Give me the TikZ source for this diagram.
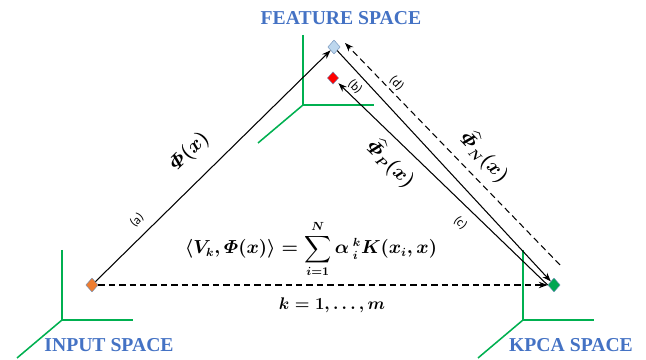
\documentclass[tikz,border=0pt]{standalone}
\usepackage{amsmath}
\usepackage[no-math]{fontspec}
\usetikzlibrary{arrows.meta,shapes.geometric}
\newfontfamily\headfont{Liberation Serif}
\newfontfamily\tagfont{Carlito}
\definecolor{spaceblue}{HTML}{4472C4}
\definecolor{axisgreen}{HTML}{00B050}
\definecolor{inpfill}{HTML}{ED7D31}
\definecolor{featfill}{HTML}{BDD7EE}
\definecolor{kpcafill}{HTML}{00A651}
\definecolor{rimblue}{HTML}{6F8FB8}
\begin{document}
\begin{tikzpicture}[
  x=0.25mm,
  y=-0.25mm,
  line join=round,
  axis/.style={draw=axisgreen,line width=1.1pt},
  sample/.style={diamond,draw=rimblue,line width=0.3pt,inner sep=0pt,
    minimum width=3.1mm,minimum height=3.5mm},
  link/.style={draw=black,line width=0.75pt,-{Stealth[length=2.2mm,width=1.6mm]}},
  back/.style={link,dash pattern=on 1.6mm off 1mm},
  spacelabel/.style={text=spaceblue,font=\headfont\bfseries\fontsize{14}{16}\selectfont},
  eqn/.style={inner sep=1pt,font=\fontsize{13.5}{16}\selectfont\boldmath},
  caselabel/.style={inner sep=1pt,font=\tagfont\fontsize{9}{10}\selectfont}
]
  \useasboundingbox (0,0) rectangle (646,360);

  % Axes of the three spaces.
  \foreach \ox/\oy in {62/320,303/105,523/320} {
    \draw[axis] (\ox,\oy-70) -- (\ox,\oy) -- (\ox+71,\oy);
    \draw[axis] (\ox,\oy) -- (\ox-45,\oy+38);
  }

  % Samples.
  \node[sample,fill=inpfill] (inp) at (92,285) {};
  \node[sample,fill=featfill] (feat) at (334,47) {};
  \node[sample,fill=red,minimum width=2.8mm,minimum height=3.1mm] (red) at (333,78) {};
  \node[sample,fill=kpcafill] (kpca) at (554,285) {};

  % Space names.
  \node[spacelabel] (featname) at (341,18) {FEATURE SPACE};
  \node[spacelabel] (inpname) at (109,345) {INPUT SPACE};
  \node[spacelabel] (kpcaname) at (571,345) {KPCA SPACE};

  % Projection formula.
  \node[eqn,scale=0.93] (proj) at (311,249)
    {$\langle V_k,\varPhi(x)\rangle = \displaystyle\sum_{i=1}^{N}\alpha\,{}^{k}_{i}K(x_i,x)$};
  \node[eqn,font=\fontsize{12.5}{15}\selectfont\boldmath] (range) at (332,305) {$k=1,\dots,m$};

  % Mappings.
  \draw[link] (inp) -- (feat)
    node[pos=0.48,sloped,above=3.6mm,eqn] {$\varPhi(x)$}
    node[pos=0.22,sloped,above=1.8mm,caselabel] {(a)};
  \draw[link,shorten >=0.8mm] (kpca.west) -- (red)
    node[pos=0.94,sloped,above=0.4mm,caselabel] {(b)}
    node[pos=0.67,sloped,below=1.6mm,eqn] {$\widehat{\varPhi}_P(x)$}
    node[pos=0.36,sloped,below=2.1mm,caselabel] {(c)};
  \draw[link] (feat.south east) -- (kpca.north west);

  \coordinate (dtop) at ([shift={(11,-4)}]feat.center);
  \coordinate (dbot) at ([shift={(6,-20)}]kpca.center);
  \draw[back] (dbot) -- (dtop)
    node[pos=0.79,sloped,above=0.4mm,caselabel] {(d)}
    node[pos=0.42,sloped,above=1.8mm,eqn] {$\widehat{\varPhi}_N(x)$};
  \draw[back] (inp) -- (kpca);
\end{tikzpicture}
\end{document}
